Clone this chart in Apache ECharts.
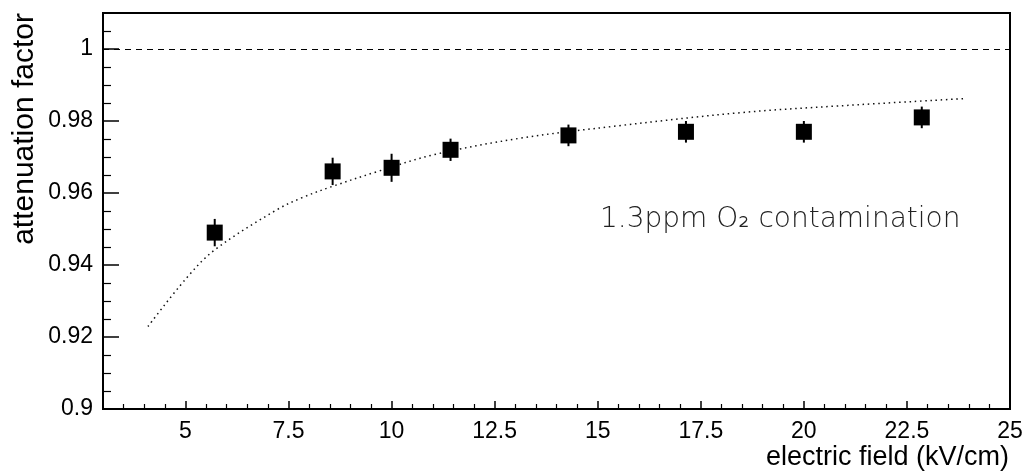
<!DOCTYPE html>
<html>
<head>
<meta charset="utf-8">
<script src="https://cdn.jsdelivr.net/npm/echarts@6/dist/echarts.min.js"></script>
<style>
html,body{margin:0;padding:0;background:#fff;}
#chart{width:1026px;height:471px;}
</style>
</head>
<body>
<div id="chart"></div>
<script>
// ---- data ----
const fieldValues = [5.71, 8.57, 10.0, 11.43, 14.29, 17.14, 20.0, 22.86];
const attenuation = [0.949, 0.966, 0.967, 0.972, 0.976, 0.977, 0.977, 0.981];
const attenuationErr = [0.0038, 0.0038, 0.0039, 0.0031, 0.0030, 0.0030, 0.0030, 0.0030];
const fitX = [4.09, 5.02, 5.71, 7.21, 7.85, 8.58, 9.64, 11.01, 13.11, 15.52, 18.45, 20.86, 23.87];
const fitY = [0.9229, 0.9363, 0.9442, 0.9553, 0.9588, 0.9619, 0.9659, 0.9706, 0.9752, 0.9787, 0.9823, 0.9842, 0.9862];
const referenceLevel = 1;
const xMajorTicks = [5, 7.5, 10, 12.5, 15, 17.5, 20, 22.5, 25];
const xMinorTicks = [3.5,4,4.5,5.5,6,6.5,7,8,8.5,9,9.5,10.5,11,11.5,12,13,13.5,14,14.5,15.5,16,16.5,17,18,18.5,19,19.5,20.5,21,21.5,22,23,23.5,24,24.5];
const yMajorTicks = [0.9, 0.92, 0.94, 0.96, 0.98, 1];
const yMinorTicks = [0.905,0.91,0.915,0.925,0.93,0.935,0.945,0.95,0.955,0.965,0.97,0.975,0.985,0.99,0.995,1.005];
const xTitle = 'electric field (kV/cm)';
const yTitle = 'attenuation factor';
const note = '1.3ppm O\u2082 contamination';

const chart = echarts.init(document.getElementById('chart'));
const FONT = '"Liberation Sans", Arial, sans-serif';
const grid = {left: 103, right: 16, top: 13, bottom: 62};

const xBase = {type: 'value', min: 3, max: 25, position: 'bottom', splitLine: {show: false}};
const yBase = {type: 'value', min: 0.9, max: 1.01, position: 'left', splitLine: {show: false}};

const option = {
  animation: false,
  grid: Object.assign({show: true, borderColor: '#000', borderWidth: 2, backgroundColor: '#fff'}, grid),
  xAxis: [
    Object.assign({}, xBase, {
      axisLine: {show: true, lineStyle: {color: '#000', width: 2}},
      axisTick: {show: true, inside: true, length: 8, customValues: xMajorTicks, lineStyle: {color: '#000', width: 1.5}},
      axisLabel: {show: true, customValues: xMajorTicks, color: '#000', fontFamily: FONT, fontSize: 23, margin: 11,
        formatter: v => String(+(+v).toFixed(2))}
    }),
    Object.assign({}, xBase, {
      axisLine: {show: false},
      axisTick: {show: true, inside: true, length: 5, customValues: xMinorTicks, lineStyle: {color: '#000', width: 1.2}},
      axisLabel: {show: false}
    })
  ],
  yAxis: [
    Object.assign({}, yBase, {
      axisLine: {show: true, lineStyle: {color: '#000', width: 2}},
      axisTick: {show: true, inside: true, length: 16, customValues: yMajorTicks, lineStyle: {color: '#000', width: 1.5}},
      axisLabel: {show: true, customValues: yMajorTicks, color: '#000', fontFamily: FONT, fontSize: 23, margin: 10,
        formatter: v => String(+(+v).toFixed(3))}
    }),
    Object.assign({}, yBase, {
      axisLine: {show: false},
      axisTick: {show: true, inside: true, length: 8, customValues: yMinorTicks, lineStyle: {color: '#000', width: 1.2}},
      axisLabel: {show: false}
    })
  ],
  series: [
    {
      type: 'line', name: 'fit', xAxisIndex: 0, yAxisIndex: 0,
      data: fitX.map((x, i) => [x, fitY[i]]),
      smooth: 0.35, symbol: 'none',
      lineStyle: {color: '#111', width: 1.5, type: [1.5, 3.7]},
      markLine: {
        silent: true, symbol: ['none', 'none'], label: {show: false},
        lineStyle: {color: '#000', width: 1, type: [6, 5]},
        data: [{yAxis: referenceLevel}]
      },
      z: 2
    },
    {
      type: 'custom', name: 'errors', xAxisIndex: 0, yAxisIndex: 0,
      data: fieldValues.map((x, i) => [x, attenuation[i], attenuationErr[i]]),
      renderItem: function (params, api) {
        const x = api.value(0), y = api.value(1), e = api.value(2);
        const p1 = api.coord([x, y - e]);
        const p2 = api.coord([x, y + e]);
        return {type: 'line', shape: {x1: p1[0], y1: p1[1], x2: p2[0], y2: p2[1]},
          style: {stroke: '#000', lineWidth: 2}};
      },
      z: 3
    },
    {
      type: 'scatter', name: 'data', xAxisIndex: 0, yAxisIndex: 0,
      data: fieldValues.map((x, i) => [x, attenuation[i]]),
      symbol: 'rect', symbolSize: 16,
      itemStyle: {color: '#000', opacity: 1},
      z: 4
    }
  ],
  graphic: [
    {type: 'text', x: 1009, y: 458, z: 10,
      style: {text: xTitle, font: '27px ' + FONT, fill: '#000', textAlign: 'right', textVerticalAlign: 'middle'}},
    {type: 'text', x: 25, y: 13, rotation: Math.PI / 2, z: 10,
      style: {text: yTitle, font: '30px ' + FONT, fill: '#000', textAlign: 'right', textVerticalAlign: 'middle'}},
    {type: 'text', x: 600, y: 220, z: 10,
      style: {text: note, font: '200 28px "DejaVu Sans", sans-serif', fill: '#222', textAlign: 'left', textVerticalAlign: 'middle'}}
  ]
};
chart.setOption(option);
</script>
</body>
</html>
